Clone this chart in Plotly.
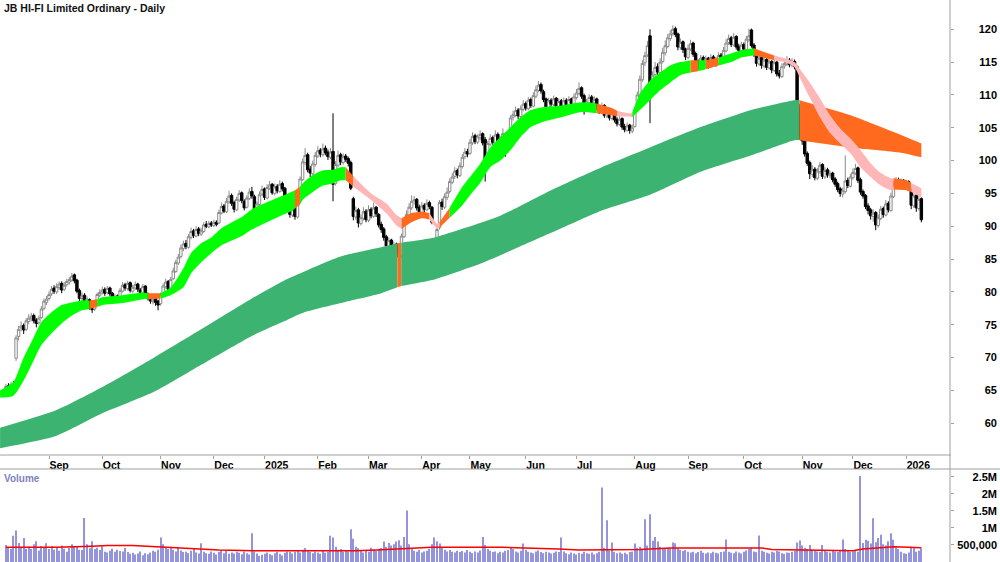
import pandas as pd
import plotly.graph_objects as go

# ---------------- calendar (ASX trading days) ----------------
HOLIDAYS = ['2024-12-25', '2024-12-26', '2025-01-01', '2025-01-27', '2025-04-18',
            '2025-04-21', '2025-04-25', '2025-06-09', '2025-12-25', '2025-12-26', '2026-01-01']
MONTH_LABELS = ['Sep', 'Oct', 'Nov', 'Dec', '2025', 'Feb', 'Mar', 'Apr', 'May', 'Jun',
                'Jul', 'Aug', 'Sep', 'Oct', 'Nov', 'Dec', '2026']
PRICE_TICKS = [60, 65, 70, 75, 80, 85, 90, 95, 100, 105, 110, 115, 120]
VOL_TICKS = [500000, 1000000, 1500000, 2000000, 2500000]
VOL_TICK_TEXT = ['500,000', '1M', '1.5M', '2M', '2.5M']

# ---------------- daily OHLC ----------------
OPEN = [
65.2, 65.7, 65.4, 65.9, 69.9, 73.2, 74.5, 74.9, 74.3, 75.5,
75.9, 76.4, 75.7, 75.3, 76.1, 77.5, 78.4, 79.0, 79.7, 80.6,
80.0, 80.7, 81.3, 80.4, 81.1, 81.5, 81.8, 82.6, 81.8, 80.2,
79.0, 79.5, 78.4, 78.8, 77.9, 77.4, 78.2, 79.5, 80.0, 80.4,
79.9, 80.6, 79.8, 78.9, 79.4, 78.9, 80.1, 81.1, 80.5, 81.4,
80.1, 80.6, 81.2, 80.3, 79.8, 80.9, 79.6, 79.0, 78.5, 79.0,
78.6, 78.2, 79.5, 80.8, 81.6, 80.5, 82.0, 83.1, 84.4, 85.4,
86.6, 87.4, 86.8, 88.3, 89.3, 88.5, 89.6, 88.8, 89.2, 90.3,
89.9, 90.5, 90.1, 90.6, 90.5, 92.0, 93.1, 92.2, 93.7, 94.7,
93.6, 92.5, 94.0, 95.1, 93.8, 92.9, 94.2, 95.3, 94.5, 91.7,
93.3, 94.9, 95.7, 94.3, 95.8, 96.4, 95.0, 96.1, 95.3, 96.5,
95.8, 94.3, 93.1, 91.7, 92.7, 91.4, 95.0, 97.1, 99.7, 100.9,
98.7, 98.0, 99.4, 100.7, 101.6, 100.9, 101.9, 101.3, 100.5, 101.4,
96.5, 99.3, 100.9, 99.7, 100.7, 100.3, 99.7, 94.2, 91.4, 92.5,
90.4, 91.2, 92.3, 90.9, 92.6, 91.5, 92.9, 91.8, 90.3, 89.6,
88.4, 86.9, 87.9, 86.4, 87.3, 86.0, 85.5, 88.4, 90.5, 91.7,
92.8, 93.9, 94.1, 92.9, 92.1, 93.2, 92.5, 93.6, 92.9, 84.0,
86.0, 89.8, 93.7, 92.9, 94.4, 95.3, 96.7, 97.6, 98.5, 97.7,
99.1, 100.6, 101.4, 101.1, 102.7, 103.8, 102.8, 103.5, 104.1, 103.2,
100.2, 102.5, 103.5, 102.7, 104.0, 102.4, 103.1, 104.0, 101.6, 103.3,
106.6, 106.9, 107.7, 106.7, 107.8, 108.7, 107.9, 109.3, 108.3, 109.8,
110.7, 111.6, 110.5, 109.4, 108.1, 109.2, 108.5, 109.5, 108.2, 109.1,
108.3, 109.2, 108.4, 109.4, 108.6, 109.6, 110.2, 111.1, 109.9, 107.9,
108.8, 109.7, 108.8, 109.4, 108.2, 107.5, 108.4, 106.8, 107.6, 106.4,
107.3, 106.3, 105.5, 106.4, 105.2, 104.6, 105.4, 104.5, 105.2, 107.9,
110.1, 112.3, 114.9, 116.1, 119.0, 110.5, 113.1, 114.3, 113.4, 115.1,
116.4, 117.4, 118.6, 119.4, 120.1, 119.3, 117.2, 118.1, 117.0, 115.7,
117.0, 117.9, 116.3, 115.1, 114.2, 115.7, 114.7, 115.6, 114.3, 115.8,
115.2, 114.8, 116.1, 115.2, 116.7, 118.0, 118.7, 117.6, 118.9, 117.4,
116.7, 117.7, 116.9, 118.4, 119.9, 117.6, 116.3, 114.7, 115.7, 114.4,
115.4, 114.1, 115.1, 113.7, 115.0, 113.3, 112.8, 114.4, 114.7, 115.3,
114.5, 115.1, 114.3, 108.0, 103.5, 103.1, 101.1, 99.7, 97.9, 98.7,
97.3, 98.3, 99.4, 97.5, 98.6, 97.7, 98.1, 97.2, 96.5, 95.7,
94.9, 95.3, 97.0, 96.1, 97.4, 98.1, 98.9, 97.1, 95.3, 94.7,
93.1, 92.5, 91.5, 92.1, 90.1, 91.2, 92.7, 91.7, 93.5, 92.4,
94.5, 96.2, 97.1, 96.5, 97.0, 96.3, 96.8, 95.7, 93.1, 94.7, 92.7, 94.2]

HIGH = [
66.0, 66.1, 66.3, 66.4, 73.4, 74.8, 75.5, 75.2, 76.0, 76.6,
76.8, 76.7, 76.0, 76.4, 77.8, 79.0, 79.4, 80.1, 80.9, 81.0,
81.3, 81.6, 81.6, 81.5, 82.0, 82.3, 82.9, 82.8, 82.0, 80.5,
79.9, 79.8, 79.3, 79.0, 78.2, 78.4, 79.9, 80.4, 80.8, 80.7,
80.9, 80.8, 80.0, 79.7, 79.6, 80.6, 81.5, 81.4, 81.7, 81.6,
81.1, 81.6, 81.4, 80.6, 81.2, 81.0, 79.9, 79.3, 79.3, 79.2,
78.8, 79.9, 81.3, 82.0, 81.8, 82.3, 83.7, 84.9, 85.8, 87.2,
87.8, 87.9, 88.8, 89.8, 89.6, 90.0, 89.9, 89.8, 90.6, 90.8,
90.8, 90.8, 91.0, 90.9, 92.5, 93.6, 93.4, 94.3, 95.4, 95.0,
93.9, 94.5, 95.5, 95.3, 94.1, 94.7, 95.8, 96.0, 94.8, 93.8,
95.3, 96.2, 95.9, 96.4, 96.9, 96.6, 96.5, 96.4, 97.0, 96.8,
96.0, 94.6, 93.4, 93.0, 93.0, 95.3, 97.6, 100.3, 101.9, 101.2,
99.2, 100.0, 101.3, 102.2, 101.9, 102.6, 102.3, 101.7, 101.9, 107.2,
99.9, 101.5, 101.2, 101.1, 101.0, 100.6, 100.0, 94.5, 93.0, 92.8,
91.8, 92.9, 92.6, 93.2, 92.9, 93.6, 93.1, 92.0, 90.7, 89.9,
88.7, 88.3, 88.1, 87.7, 87.5, 86.4, 88.9, 91.1, 92.4, 93.5,
94.7, 94.6, 94.3, 93.3, 93.7, 93.5, 94.1, 93.9, 93.1, 86.0,
89.9, 94.0, 94.2, 95.0, 95.9, 97.3, 98.1, 99.0, 98.8, 99.7,
101.0, 101.9, 101.8, 103.3, 104.3, 104.1, 104.0, 104.6, 104.3, 103.6,
103.0, 104.0, 103.8, 104.6, 104.3, 103.7, 104.9, 104.3, 103.5, 106.9,
107.6, 108.2, 108.0, 108.4, 109.2, 109.0, 109.7, 109.6, 110.4, 111.4,
112.1, 111.9, 110.8, 109.6, 109.6, 109.5, 109.9, 109.7, 109.5, 109.4,
109.6, 109.5, 109.8, 109.6, 110.2, 110.9, 111.9, 111.3, 110.2, 109.4,
110.1, 110.0, 109.8, 109.6, 108.5, 108.8, 108.6, 108.0, 107.8, 107.7,
107.5, 106.6, 106.8, 106.6, 105.6, 105.8, 105.6, 105.5, 108.2, 110.5,
113.0, 115.3, 116.6, 118.2, 120.0, 113.6, 115.0, 114.8, 115.6, 117.2,
118.3, 119.3, 119.9, 120.6, 120.4, 119.5, 118.6, 118.3, 117.2, 117.7,
118.4, 118.1, 116.6, 115.4, 116.1, 116.0, 116.0, 115.8, 116.2, 116.1,
115.7, 116.5, 116.4, 117.3, 118.5, 119.2, 119.0, 119.4, 119.1, 117.8,
118.1, 118.0, 119.0, 120.1, 120.1, 117.9, 116.5, 116.3, 115.9, 115.9,
115.7, 115.6, 115.3, 115.4, 115.2, 113.8, 114.8, 115.5, 115.9, 115.6,
115.6, 115.4, 114.5, 108.6, 104.2, 103.4, 101.4, 100.0, 99.3, 99.0,
98.9, 99.8, 99.6, 99.0, 98.9, 98.5, 98.3, 97.5, 96.8, 96.0,
95.9, 100.8, 97.4, 98.0, 98.8, 99.5, 99.1, 97.4, 95.6, 94.9,
93.5, 92.8, 92.6, 92.3, 91.8, 93.1, 93.0, 94.0, 93.8, 95.1,
96.8, 97.5, 97.4, 97.3, 97.2, 97.1, 97.0, 95.9, 95.0, 94.9, 94.7, 94.4]

LOW = [
64.9, 65.0, 65.1, 65.4, 69.5, 72.6, 74.0, 73.6, 74.0, 75.1,
75.5, 75.2, 74.6, 75.0, 75.9, 77.2, 78.0, 78.7, 79.4, 79.7,
79.7, 80.3, 79.8, 80.1, 80.8, 81.1, 81.5, 81.3, 79.8, 78.6,
78.6, 78.1, 78.0, 77.3, 76.8, 77.1, 78.0, 79.2, 79.6, 79.4,
79.6, 79.3, 78.5, 78.6, 78.3, 78.7, 79.9, 80.2, 80.2, 79.9,
79.8, 80.3, 80.0, 79.5, 79.6, 79.2, 78.7, 78.2, 78.1, 77.9,
77.2, 77.9, 79.3, 80.5, 80.0, 80.3, 81.8, 82.9, 84.1, 85.1,
86.2, 86.5, 86.6, 88.0, 88.2, 88.3, 88.5, 88.5, 89.0, 89.7,
89.7, 89.9, 89.9, 90.0, 90.3, 91.8, 92.0, 92.0, 93.4, 93.1,
92.1, 92.3, 93.7, 93.5, 92.4, 92.7, 94.0, 94.2, 91.1, 91.4,
93.0, 94.6, 94.0, 94.1, 95.5, 94.8, 94.7, 95.0, 95.1, 95.3,
93.8, 92.6, 91.3, 91.4, 91.0, 91.2, 94.8, 96.9, 99.3, 98.2,
97.5, 97.8, 99.1, 100.4, 100.5, 100.6, 100.8, 100.1, 100.2, 93.8,
96.2, 99.0, 99.3, 99.4, 99.8, 99.1, 95.5, 90.9, 91.0, 89.8,
90.1, 90.9, 90.6, 90.6, 91.2, 91.3, 91.4, 89.8, 89.0, 87.8,
86.6, 86.5, 86.0, 86.1, 85.4, 84.8, 85.2, 88.2, 90.2, 91.4,
92.5, 93.3, 92.4, 91.7, 91.9, 92.1, 92.3, 92.6, 90.3, 82.8,
85.6, 89.5, 92.5, 92.6, 94.0, 95.0, 96.4, 97.2, 97.3, 97.5,
98.8, 100.2, 100.5, 100.9, 102.4, 102.5, 102.5, 103.1, 102.3, 96.8,
99.9, 102.2, 102.4, 102.4, 102.1, 102.0, 102.8, 100.6, 101.2, 103.1,
106.1, 106.6, 106.3, 106.5, 107.5, 107.6, 107.7, 108.0, 108.1, 109.5,
110.4, 110.2, 108.9, 107.8, 107.9, 108.2, 108.3, 107.9, 108.0, 107.8,
108.0, 108.1, 108.2, 108.3, 108.4, 109.3, 110.0, 109.4, 107.0, 107.6,
108.5, 108.5, 108.4, 107.7, 107.1, 107.2, 106.5, 106.5, 106.1, 106.1,
105.8, 105.2, 105.3, 104.7, 104.3, 104.4, 104.1, 104.2, 105.0, 107.6,
109.8, 112.0, 114.4, 115.8, 105.7, 110.2, 112.7, 112.9, 113.1, 114.8,
116.0, 117.1, 118.2, 119.0, 118.8, 116.8, 116.9, 116.4, 115.3, 115.4,
116.7, 115.8, 114.6, 113.8, 114.0, 114.4, 114.4, 114.0, 114.1, 114.7,
114.3, 114.6, 114.9, 115.0, 116.5, 117.6, 117.3, 117.4, 116.9, 116.3,
116.4, 116.6, 116.7, 118.1, 117.2, 115.8, 114.3, 114.4, 114.0, 114.1,
113.8, 113.9, 113.3, 113.5, 112.8, 112.5, 112.6, 114.0, 114.4, 114.2,
114.2, 113.9, 105.0, 103.2, 102.4, 100.6, 99.2, 97.2, 97.5, 97.0,
97.0, 98.0, 97.2, 97.2, 97.4, 97.3, 96.7, 96.0, 95.2, 94.5,
94.4, 95.0, 95.8, 95.9, 97.1, 97.8, 96.6, 94.8, 94.2, 92.6,
91.8, 91.0, 90.7, 89.4, 89.8, 90.9, 91.3, 91.5, 92.1, 92.2,
94.3, 95.9, 96.2, 96.1, 96.0, 95.9, 95.4, 92.6, 92.8, 92.2, 92.4, 90.6]

CLOSE = [
65.6, 65.3, 65.9, 65.8, 73.0, 74.3, 74.8, 74.2, 75.6, 76.0,
76.3, 75.6, 75.2, 76.0, 77.4, 78.6, 78.9, 79.6, 80.4, 80.1,
80.8, 81.2, 80.3, 81.0, 81.6, 81.9, 82.4, 81.7, 80.1, 79.0,
79.4, 78.5, 78.9, 77.8, 77.3, 78.0, 79.6, 79.9, 80.3, 79.8,
80.5, 79.7, 79.0, 79.3, 78.8, 80.2, 81.0, 80.6, 81.3, 80.2,
80.7, 81.1, 80.4, 79.9, 80.8, 79.5, 79.1, 78.6, 78.9, 78.4,
78.0, 79.6, 80.9, 81.5, 80.4, 81.9, 83.2, 84.5, 85.3, 86.7,
87.3, 86.9, 88.4, 89.2, 88.6, 89.5, 88.9, 89.3, 90.2, 90.0,
90.4, 90.2, 90.6, 90.3, 92.1, 93.0, 92.3, 93.8, 94.6, 93.5,
92.6, 94.1, 95.0, 93.9, 92.8, 94.3, 95.2, 94.6, 91.6, 93.4,
94.8, 95.6, 94.4, 95.9, 96.3, 95.1, 96.0, 95.4, 96.4, 95.7,
94.2, 93.0, 91.8, 92.6, 91.5, 94.9, 97.2, 99.8, 100.8, 98.6,
98.1, 99.5, 100.8, 101.5, 101.0, 101.8, 101.2, 100.6, 101.3, 96.4,
99.4, 100.8, 99.8, 100.6, 100.2, 99.6, 95.8, 91.5, 92.4, 90.5,
91.3, 92.2, 91.0, 92.5, 91.6, 92.8, 91.9, 90.2, 89.5, 88.3,
87.0, 87.8, 86.5, 87.2, 85.9, 85.3, 88.5, 90.6, 91.8, 92.9,
93.8, 94.0, 92.8, 92.2, 93.1, 92.6, 93.5, 93.0, 90.6, 84.8,
89.5, 93.6, 93.0, 94.5, 95.2, 96.8, 97.5, 98.4, 97.8, 99.2,
100.5, 101.3, 101.0, 102.8, 103.7, 102.9, 103.6, 104.0, 102.7, 100.0,
102.6, 103.4, 102.8, 103.9, 102.5, 103.2, 104.1, 101.5, 103.0, 106.5,
107.0, 107.6, 106.8, 107.9, 108.6, 108.0, 109.2, 108.4, 109.9, 110.8,
111.5, 110.6, 109.3, 108.2, 109.1, 108.6, 109.4, 108.3, 109.0, 108.2,
109.1, 108.5, 109.3, 108.7, 109.7, 110.3, 111.0, 109.8, 108.0, 108.9,
109.6, 108.9, 109.3, 108.1, 107.6, 108.3, 106.9, 107.5, 106.5, 107.2,
106.2, 105.6, 106.3, 105.1, 104.7, 105.3, 104.6, 105.0, 107.8, 110.0,
112.4, 114.8, 116.0, 117.5, 110.2, 113.0, 114.2, 113.5, 115.0, 116.5,
117.5, 118.7, 119.3, 120.0, 119.2, 117.3, 118.0, 116.9, 115.8, 117.1,
117.8, 116.2, 115.0, 114.3, 115.6, 114.8, 115.5, 114.4, 115.7, 115.1,
114.9, 116.0, 115.3, 116.8, 117.9, 118.6, 117.7, 118.8, 117.3, 116.8,
117.6, 117.0, 118.5, 119.0, 117.5, 116.2, 114.8, 115.6, 114.5, 115.3,
114.2, 115.0, 113.8, 114.9, 113.2, 112.9, 114.3, 114.8, 115.2, 114.6,
115.0, 114.3, 106.0, 103.6, 103.0, 101.0, 99.6, 98.0, 98.6, 97.4,
98.4, 99.3, 97.6, 98.5, 97.8, 98.0, 97.1, 96.4, 95.6, 95.0,
95.4, 96.9, 96.2, 97.5, 98.2, 98.8, 97.0, 95.2, 94.6, 93.0,
92.4, 91.6, 92.0, 90.2, 91.3, 92.6, 91.8, 93.4, 92.5, 94.6,
96.3, 97.0, 96.6, 96.9, 96.4, 96.7, 95.8, 93.2, 94.6, 92.8, 94.1, 91.0]

# daily volume, thousands of shares
VOLUME_K = [
500, 420, 380, 770, 920, 560, 430, 700, 390, 450,
380, 520, 610, 340, 460, 420, 550, 380, 470, 360,
410, 330, 480, 390, 300, 420, 520, 470, 440, 360,
350, 1290, 520, 400, 610, 380, 420, 350, 460, 300,
280, 330, 390, 300, 360, 320, 310, 410, 290, 240,
270, 220, 250, 310, 200, 260, 230, 280, 330, 300,
360, 720, 520, 410, 380, 450, 360, 310, 420, 340,
290, 300, 260, 330, 390, 280, 250, 550, 300, 260,
240, 310, 270, 220, 290, 350, 260, 330, 240, 280,
250, 300, 270, 230, 310, 260, 220, 840, 310, 250,
180, 210, 240, 280, 230, 200, 260, 300, 240, 190,
270, 310, 290, 250, 300, 330, 280, 360, 410, 330,
290, 260, 310, 280, 240, 330, 270, 300, 770, 720,
450, 360, 380, 300, 340, 310, 960, 680, 450, 400,
320, 280, 350, 300, 420, 360, 330, 390, 410, 600,
450, 560, 480, 520, 600, 640, 480, 730, 1510, 520,
380, 330, 300, 350, 280, 310, 330, 390, 520, 720,
610, 540, 420, 360, 310, 350, 300, 280, 330, 290,
320, 280, 350, 300, 260, 310, 280, 340, 730, 500,
380, 330, 290, 310, 260, 300, 280, 330, 350, 420,
380, 310, 280, 330, 540, 360, 300, 280, 260, 310,
340, 290, 260, 300, 280, 250, 270, 310, 290, 720,
310, 260, 230, 280, 250, 220, 270, 240, 300, 260,
240, 280, 220, 260, 300, 2180, 420, 1220, 340, 570,
300, 260, 280, 240, 270, 230, 290, 310, 540, 420,
450, 380, 1250, 480, 1400, 620, 730, 600, 450, 410,
380, 420, 390, 570, 550, 400, 360, 320, 350, 300,
280, 300, 260, 290, 330, 270, 250, 280, 260, 300,
270, 250, 290, 310, 660, 300, 270, 260, 310, 280,
250, 300, 340, 380, 420, 310, 290, 780, 330, 300,
270, 250, 300, 280, 330, 310, 260, 240, 280, 270,
300, 330, 570, 630, 480, 420, 380, 500, 360, 330,
310, 290, 500, 330, 300, 280, 340, 310, 290, 350,
660, 380, 320, 290, 310, 330, 300, 2520, 560, 650,
620, 540, 1280, 580, 700, 800, 520, 480, 610, 840,
650, 420, 380, 300, 260, 240, 280, 450, 410, 300, 330, 400]

# volume moving-average line (read at knots: bar index, thousands)
VOL_MA_X = [0, 20, 34, 40, 50, 58, 70, 84, 98, 125, 132, 138, 146, 156, 162, 168, 196,
            210, 218, 226, 240, 250, 262, 298, 302, 314, 334, 338, 345, 350, 356, 361]
VOL_MA_K = [430, 430, 460, 480, 480, 450, 400, 350, 330, 330, 310, 330, 350, 380, 410, 430, 430,
            410, 380, 350, 350, 370, 410, 410, 370, 350, 330, 380, 420, 450, 430, 420]

# short-term ribbon (bar index, upper, lower, colour of following segment)
SB_X = [-2.3, 3, 7, 11, 14, 18, 22, 26, 30, 33, 36, 38, 46, 54, 56, 61, 65, 70, 73, 77,
        81, 85, 93, 97, 105, 113, 114, 116, 117, 121, 125, 129, 132, 134, 137, 144, 150, 154, 156, 160,
        164, 167, 170, 171, 175, 180, 184, 187, 191, 195, 199, 203, 207, 211, 219, 227, 233, 239, 241, 246,
        247, 250, 254, 258, 262, 266, 270, 273, 276, 281, 286, 290, 295, 303, 307, 311, 313, 317, 321, 325,
        329, 333, 337, 341, 345, 349, 350, 355, 357, 361]
SB_UP = [65.0, 66.3, 70.0, 73.1, 75.4, 76.9, 78.0, 78.4, 78.7, 78.7, 78.9, 79.2, 79.5, 79.9, 79.8, 79.8, 80.7, 83.6, 85.9, 87.4,
         88.3, 89.7, 91.4, 92.6, 94.0, 95.3, 95.5, 96.0, 96.5, 97.8, 98.5, 98.6, 99.0, 99.0, 97.6, 95.0, 93.5, 91.7, 91.2, 92.0,
         92.2, 92.0, 90.4, 90.6, 92.8, 96.0, 98.0, 99.5, 102.0, 103.6, 105.1, 106.6, 107.7, 108.1, 108.4, 108.9, 108.7, 108.0, 107.6, 107.2,
         107.3, 110.2, 112.2, 113.4, 114.5, 115.0, 115.3, 115.3, 115.3, 115.7, 116.3, 116.8, 117.1, 116.0, 115.6, 115.0, 114.0, 111.9, 109.5, 106.9,
         104.9, 103.4, 101.6, 99.6, 98.1, 97.3, 97.3, 97.0, 96.6, 95.8]
SB_LO = [63.9, 64.2, 66.5, 69.6, 71.9, 73.7, 75.2, 76.4, 77.2, 77.4, 77.7, 78.0, 78.3, 78.9, 78.9, 79.0, 79.5, 80.7, 82.8, 84.5,
         85.9, 87.1, 88.5, 89.5, 91.0, 92.4, 92.7, 93.3, 94.0, 95.2, 96.2, 96.5, 97.0, 97.0, 96.0, 94.0, 92.0, 90.1, 89.6, 90.6,
         91.2, 91.0, 89.7, 89.8, 91.3, 93.2, 95.2, 96.6, 99.0, 100.0, 101.6, 103.6, 105.1, 105.8, 106.6, 107.4, 107.2, 106.9, 106.7, 106.7,
         106.6, 107.7, 109.2, 110.7, 111.9, 113.0, 113.4, 113.6, 113.9, 114.5, 115.0, 115.7, 116.0, 115.3, 115.0, 114.2, 112.7, 109.6, 106.6, 104.2,
         102.6, 101.1, 99.0, 97.5, 96.2, 95.5, 95.6, 95.5, 95.2, 94.4]
SB_STATE = [c for grp in ("ggggggggg o gggg o ggggggggggg o gggggg o pppp ooo pp o "
                          "gggggggggggg oo pp gggggg o g o ggg o ppppppppppppp oo pp").split() for c in grp]

# long-term ribbon
LB_X = [-2.3, 20, 38, 58, 77, 97, 109, 117, 132, 148, 154.4, 155.9, 168, 187, 195, 215, 235, 254, 274, 294,
        311, 313, 333, 353, 361]
LB_UP = [59.3, 62.0, 65.5, 69.9, 74.3, 79.0, 81.6, 83.0, 85.4, 86.8, 87.4, 87.5, 88.2, 90.5, 91.6, 95.5, 99.0, 102.0, 105.1, 107.7,
         109.2, 109.2, 106.9, 103.9, 102.6]
LB_LO = [56.2, 58.1, 61.5, 64.7, 68.9, 73.3, 75.4, 76.8, 78.3, 79.8, 80.7, 80.9, 81.8, 84.3, 85.6, 89.0, 92.4, 94.8, 98.3, 100.8,
         103.1, 103.1, 102.0, 101.2, 100.5]
LB_STATE = list("ggggggggggoggggggggggoooo")

SHORT_COLORS = {'g': '#00ff00', 'o': '#ff6a1f', 'p': '#ffb6b6'}
LONG_COLORS = {'g': '#3cb371', 'o': '#ff6a1f'}

# ---------------- build ----------------
dates = pd.bdate_range('2024-08-08', '2026-01-12')
dates = dates[~dates.isin(pd.to_datetime(HOLIDAYS))]
n = min(len(dates), len(CLOSE))
idx = list(range(n))
tick_idx = [i for i in range(1, n) if dates[i].month != dates[i - 1].month]
tick_txt = MONTH_LABELS[:len(tick_idx)]

fig = go.Figure()


def add_ribbon(xs, up, lo, states, cmap):
    m = min(len(xs), len(up), len(lo))
    st = list(states) + [states[-1]] * max(0, m - len(states))
    k = 0
    while k < m - 1:
        c = st[k]
        j = k
        while j < m - 1 and st[j] == c:
            j += 1
        fig.add_trace(go.Scatter(x=xs[k:j + 1], y=lo[k:j + 1], mode='lines',
                                 line=dict(width=0, shape='spline', smoothing=0.6),
                                 hoverinfo='skip', showlegend=False))
        fig.add_trace(go.Scatter(x=xs[k:j + 1], y=up[k:j + 1], mode='lines',
                                 line=dict(width=0, shape='spline', smoothing=0.6),
                                 fill='tonexty', fillcolor=cmap[c],
                                 hoverinfo='skip', showlegend=False))
        k = j


add_ribbon(LB_X, LB_UP, LB_LO, LB_STATE, LONG_COLORS)
add_ribbon(SB_X, SB_UP, SB_LO, SB_STATE, SHORT_COLORS)

fig.add_trace(go.Candlestick(
    x=idx, open=OPEN[:n], high=HIGH[:n], low=LOW[:n], close=CLOSE[:n],
    increasing=dict(line=dict(color='#8a8a8a', width=1), fillcolor='white'),
    decreasing=dict(line=dict(color='#000000', width=1), fillcolor='#000000'),
    whiskerwidth=0, hoverinfo='skip', showlegend=False, xaxis='x', yaxis='y'))

fig.add_trace(go.Bar(x=idx, y=[v * 1000 for v in VOLUME_K[:n]], width=0.42,
                     marker=dict(color='#9494dc', line=dict(width=0)),
                     xaxis='x2', yaxis='y2', hoverinfo='skip', showlegend=False))
fig.add_trace(go.Scatter(x=VOL_MA_X, y=[v * 1000 for v in VOL_MA_K], mode='lines',
                         line=dict(color='#ff0000', width=1.5),
                         xaxis='x2', yaxis='y2', hoverinfo='skip', showlegend=False))

# invisible carriers for the label-only axes
fig.add_trace(go.Scatter(x=[0], y=[90], mode='markers', marker=dict(opacity=0),
                         xaxis='x', yaxis='y3', hoverinfo='skip', showlegend=False))
fig.add_trace(go.Scatter(x=[0], y=[0], mode='markers', marker=dict(opacity=0),
                         xaxis='x2', yaxis='y4', hoverinfo='skip', showlegend=False))

XR = [-2.33, 372.3]
PR = [55.16, 124.46]
VR = [0, 2.726e6]
GRAY = '#a0a0a0'
FONT = 'Liberation Sans, Arial, sans-serif'

fig.update_layout(
    width=1000, height=562, margin=dict(l=0, r=0, t=0, b=0),
    paper_bgcolor='white', plot_bgcolor='white', showlegend=False,
    boxgap=0.05, boxgroupgap=0,
    font=dict(family=FONT, size=11, color='black'),
    xaxis=dict(domain=[0, 0.95], range=XR, anchor='y', showgrid=False, zeroline=False,
               rangeslider=dict(visible=False), tickmode='array', tickvals=tick_idx, ticktext=tick_txt,
               ticks='outside', ticklen=3, tickcolor=GRAY, ticklabelposition='outside right',
               tickfont=dict(family=FONT, size=10.5, color='black', weight='bold'), showline=False),
    xaxis2=dict(domain=[0, 0.95], range=XR, anchor='y2', matches='x', showgrid=False,
                zeroline=False, showticklabels=False, ticks=''),
    yaxis=dict(domain=[0.1904, 1], range=PR, anchor='x', side='right', showgrid=False, zeroline=False,
               tickmode='array', tickvals=PRICE_TICKS, ticks='outside', ticklen=3, tickcolor=GRAY,
               showticklabels=False),
    yaxis3=dict(overlaying='y', anchor='free', position=1.0, side='right', range=PR,
                tickmode='array', tickvals=PRICE_TICKS, ticklabelposition='inside', ticks='',
                showgrid=False, zeroline=False, showline=False,
                tickfont=dict(family=FONT, size=11, color='black', weight='bold')),
    yaxis2=dict(domain=[0, 0.1655], range=VR, anchor='x2', side='right', showgrid=False, zeroline=False,
                tickmode='array', tickvals=VOL_TICKS, ticks='outside', ticklen=3, tickcolor=GRAY,
                showticklabels=False),
    yaxis4=dict(overlaying='y2', anchor='free', position=1.0, side='right', range=VR,
                tickmode='array', tickvals=VOL_TICKS, ticktext=VOL_TICK_TEXT, ticklabelposition='inside',
                ticks='', showgrid=False, zeroline=False, showline=False,
                tickfont=dict(family=FONT, size=11, color='black', weight='bold')),
    shapes=[
        dict(type='line', xref='paper', yref='paper', x0=0, x1=0.951, y0=1 - 455 / 562, y1=1 - 455 / 562,
             line=dict(color=GRAY, width=1)),
        dict(type='line', xref='paper', yref='paper', x0=0, x1=1, y0=1 - 469 / 562, y1=1 - 469 / 562,
             line=dict(color=GRAY, width=1)),
        dict(type='line', xref='paper', yref='paper', x0=0.95, x1=0.95, y0=0, y1=1,
             line=dict(color=GRAY, width=1)),
    ],
    annotations=[
        dict(text='<b>JB HI-FI Limited Ordinary - Daily</b>', xref='paper', yref='paper',
             x=0.002, y=1 - 8.5 / 562, xanchor='left', yanchor='middle', showarrow=False,
             font=dict(family=FONT, size=10.5, color='#111111')),
        dict(text='<b>Volume</b>', xref='paper', yref='paper',
             x=0.002, y=1 - 478 / 562, xanchor='left', yanchor='middle', showarrow=False,
             font=dict(family=FONT, size=10, color='#7f7fbf')),
    ],
)

fig.write_html('out.html')
